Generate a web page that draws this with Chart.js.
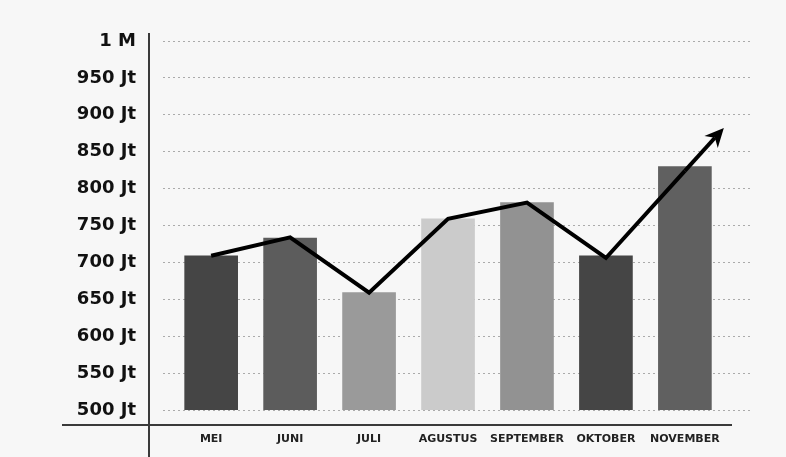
<!DOCTYPE html>
<html lang="id">
<head>
    <meta charset="UTF-8">
    <title>Grafik Bulanan</title>
    <style>
        body {
            margin: 0;
            background-color: #f7f7f7;
        }
        .chart-container {
            width: 786px;
            height: 457px;
        }
    </style>
</head>
<body>
    <div class="chart-container">
        <canvas id="myChart"></canvas>
    </div>

    <script src="https://cdn.jsdelivr.net/npm/chart.js"></script>
    <script>
        // data (values in Jt)
        const months = ['MEI', 'JUNI', 'JULI', 'AGUSTUS', 'SEPTEMBER', 'OKTOBER', 'NOVEMBER'];
        const barValues = [709, 733, 659, 759, 781, 709, 830];
        const trendValues = [709, 734, 659, 759, 781, 706, 824];
        const yTicks = [500, 550, 600, 650, 700, 750, 800, 850, 900, 950, 1000];
        const yTickLabels = ['500 Jt', '550 Jt', '600 Jt', '650 Jt', '700 Jt', '750 Jt', '800 Jt', '850 Jt', '900 Jt', '950 Jt', '1 M'];
        const barColors = ['#454545', '#5c5c5c', '#9a9a9a', '#cbcbcb', '#929292', '#454545', '#606060'];

        // axis lines and arrow head on the trend line
        const decorations = {
            id: 'decorations',
            afterDatasetsDraw(chart) {
                const ctx = chart.ctx;
                const pts = chart.getDatasetMeta(1).data;
                const a = pts[pts.length - 2], b = pts[pts.length - 1];
                let dx = b.x - a.x, dy = b.y - a.y;
                const len = Math.sqrt(dx * dx + dy * dy);
                dx /= len; dy /= len;
                const tipX = b.x + dx * 58, tipY = b.y + dy * 58;
                const head = 19, half = 9;
                ctx.save();
                ctx.strokeStyle = '#000';
                ctx.lineWidth = 4;
                ctx.beginPath();
                ctx.moveTo(b.x, b.y);
                ctx.lineTo(tipX - dx * head * 0.7, tipY - dy * head * 0.7);
                ctx.stroke();
                ctx.fillStyle = '#000';
                ctx.beginPath();
                ctx.moveTo(tipX, tipY);
                ctx.lineTo(tipX - dx * head - dy * half, tipY - dy * head + dx * half);
                ctx.lineTo(tipX - dx * head * 0.7, tipY - dy * head * 0.7);
                ctx.lineTo(tipX - dx * head + dy * half, tipY - dy * head - dx * half);
                ctx.closePath();
                ctx.fill();
                ctx.restore();
            },
            afterDraw(chart) {
                const ctx = chart.ctx;
                const area = chart.chartArea;
                ctx.save();
                ctx.strokeStyle = '#3a3a3a';
                ctx.lineWidth = 2;
                ctx.beginPath();
                ctx.moveTo(area.left - 14, area.top - 8);
                ctx.lineTo(area.left - 14, chart.height);
                ctx.moveTo(62, area.bottom + 15);
                ctx.lineTo(area.right - 20, area.bottom + 15);
                ctx.stroke();
                ctx.restore();
            }
        };

        const ctx = document.getElementById('myChart').getContext('2d');
        const myChart = new Chart(ctx, {
            data: {
                datasets: [{
                    type: 'bar',
                    label: 'Nilai',
                    data: months.map((m, i) => ({ x: i, y: barValues[i] })),
                    backgroundColor: barColors,
                    barThickness: 53,
                    order: 1
                }, {
                    type: 'line',
                    label: 'Tren',
                    data: months.map((m, i) => ({ x: i, y: trendValues[i] })),
                    borderColor: '#000',
                    borderWidth: 4,
                    pointRadius: 0,
                    tension: 0,
                    order: 0
                }]
            },
            options: {
                responsive: true,
                maintainAspectRatio: false,
                animation: false,
                layout: {
                    padding: { top: 41, right: 34, bottom: 0, left: 0 }
                },
                plugins: {
                    legend: { display: false },
                    tooltip: { enabled: false }
                },
                scales: {
                    x: {
                        type: 'linear',
                        min: -0.61,
                        max: 6.85,
                        offset: false,
                        grid: { display: false, drawTicks: false },
                        border: { display: false },
                        afterBuildTicks: (axis) => {
                            axis.ticks = months.map((m, i) => ({ value: i }));
                        },
                        afterFit: (axis) => { axis.height = 47; },
                        ticks: {
                            padding: 23,
                            color: '#222',
                            maxRotation: 0,
                            autoSkip: false,
                            font: { family: 'DejaVu Sans', size: 11, weight: 'bold' },
                            callback: (v) => months[v]
                        }
                    },
                    y: {
                        min: 500,
                        max: 1000,
                        grid: { color: '#ababab', lineWidth: 1, drawTicks: false },
                        border: { display: false, dash: [2, 3] },
                        afterBuildTicks: (axis) => {
                            axis.ticks = yTicks.map(v => ({ value: v }));
                        },
                        afterFit: (axis) => { axis.width = 163; },
                        ticks: {
                            padding: 27,
                            color: '#111',
                            font: { family: 'DejaVu Sans', size: 18, weight: 'bold' },
                            callback: (v) => yTickLabels[yTicks.indexOf(v)]
                        }
                    }
                }
            },
            plugins: [decorations]
        });
    </script>
</body>
</html>
